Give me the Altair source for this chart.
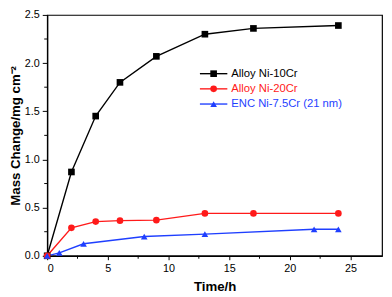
import altair as alt
import pandas as pd

series_names = ["Alloy Ni-10Cr", "Alloy Ni-20Cr", "ENC Ni-7.5Cr (21 nm)"]
colors = ["#000000", "#ff1a1a", "#1f3fff"]
shapes = ["square", "circle", "triangle-up"]

t_10cr = [0, 2, 4, 6, 9, 13, 17, 24]
m_10cr = [0, 0.87, 1.45, 1.80, 2.07, 2.30, 2.36, 2.39]
t_20cr = [0, 2, 4, 6, 9, 13, 17, 24]
m_20cr = [0, 0.29, 0.355, 0.365, 0.37, 0.44, 0.44, 0.44]
t_enc = [0, 1, 3, 8, 13, 22, 24]
m_enc = [0, 0.03, 0.125, 0.20, 0.225, 0.275, 0.275]

x_ticks = [0, 5, 10, 15, 20, 25]
x_minor = [2.5, 7.5, 12.5, 17.5, 22.5]
y_ticks = [0.0, 0.5, 1.0, 1.5, 2.0, 2.5]
y_minor = [0.25, 0.75, 1.25, 1.75, 2.25]

rows = []
for name, ts, ms in zip(series_names, [t_10cr, t_20cr, t_enc], [m_10cr, m_20cr, m_enc]):
    for t, m in zip(ts, ms):
        rows.append({"series": name, "t": t, "m": m})
df = pd.DataFrame(rows)

W, H = 342, 246
FONT = "Liberation Sans"

xenc = alt.X("t:Q", scale=alt.Scale(domain=[0, 27.6], nice=False, zero=False),
             axis=alt.Axis(values=x_ticks, title="Time/h", grid=False, tickSize=4,
                           labelPadding=3, titlePadding=6, format="d"))
yenc = alt.Y("m:Q", scale=alt.Scale(domain=[0, 2.5], nice=False),
             axis=alt.Axis(values=y_ticks, title="Mass Change/mg cm⁻²", grid=False,
                           tickSize=5, labelPadding=3, titlePadding=2, format=".1f"))
color = alt.Color("series:N", scale=alt.Scale(domain=series_names, range=colors), legend=None)
shape = alt.Shape("series:N", scale=alt.Scale(domain=series_names, range=shapes), legend=None)

base = alt.Chart(df).encode(x=xenc, y=yenc, color=color)
lines = base.mark_line(strokeWidth=1.4)
points = base.mark_point(filled=True, size=46, opacity=1).encode(shape=shape)

xminor = alt.Chart(pd.DataFrame({"t": x_minor})).mark_rule(color="black", strokeWidth=1).encode(
    x=xenc, y=alt.value(H), y2=alt.value(H + 3))
yminor = alt.Chart(pd.DataFrame({"m": y_minor})).mark_rule(color="black", strokeWidth=1).encode(
    y=yenc, x=alt.value(-3), x2=alt.value(0))

legend_layers = []
leg_y = [60, 75.5, 91]
for name, c, s, ly in zip(series_names, colors, shapes, leg_y):
    ldf = pd.DataFrame({"label": [name]})
    lc = alt.Chart(ldf)
    legend_layers.append(lc.mark_rule(color=c, strokeWidth=1.4).encode(
        x=alt.value(156), x2=alt.value(184), y=alt.value(ly)))
    legend_layers.append(lc.mark_point(filled=True, size=46, opacity=1, color=c, shape=s).encode(
        x=alt.value(170), y=alt.value(ly)))
    legend_layers.append(lc.mark_text(align="left", baseline="middle", font=FONT, fontSize=11.5,
                                      color=c).encode(
        x=alt.value(188), y=alt.value(ly), text="label:N"))

chart = alt.layer(lines, points, xminor, yminor, *legend_layers).properties(
    width=W, height=H,
    autosize=alt.AutoSizeParams(type="none"),
    padding={"left": 40, "top": 4, "right": 2, "bottom": 39},
    background="white",
).configure_view(stroke="black", strokeWidth=1.2).configure_axis(
    domainColor="black", domainWidth=1.4, tickColor="black", tickWidth=1,
    labelFont=FONT, labelFontSize=11, labelColor="black",
    titleFont=FONT, titleFontSize=13.5, titleFontWeight="bold", titleColor="black",
)

chart.save("out.html", embed_options={"renderer": "svg", "actions": False})
